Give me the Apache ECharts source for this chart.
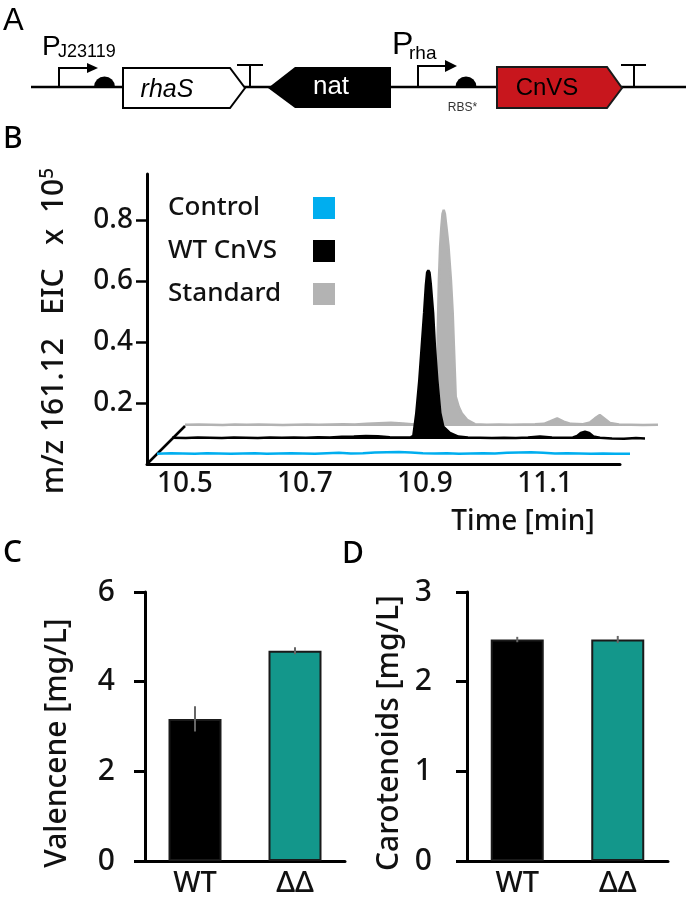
<!DOCTYPE html>
<html><head><meta charset="utf-8">
<script src="https://cdn.jsdelivr.net/npm/echarts@6/dist/echarts.min.js"></script>
<style>html,body{margin:0;padding:0;background:#fff}#c{width:688px;height:905px}</style>
</head><body><div id="c"></div>
<script>
// ---------- DATA ----------
const traceNames = ['Control', 'WT CnVS', 'Standard'];
const timeTicks = [10.5, 10.7, 10.9, 11.1];
const eicTicks = [0.2, 0.4, 0.6, 0.8];

const controlTime = [10.437,10.46,10.48,10.50,10.52,10.54,10.56,10.58,10.60,10.62,10.64,10.66,10.68,10.70,10.72,10.74,10.76,10.78,10.80,10.82,10.84,10.86,10.88,10.90,10.92,10.94,10.96,10.98,11.00,11.02,11.04,11.06,11.08,11.10,11.12,11.14,11.16,11.18,11.20,11.225];
const controlEIC  = [0.004,0.006,0.005,0.004,0.006,0.005,0.004,0.005,0.006,0.004,0.005,0.006,0.005,0.004,0.006,0.007,0.005,0.006,0.008,0.009,0.010,0.008,0.006,0.005,0.006,0.004,0.005,0.006,0.005,0.007,0.008,0.009,0.007,0.005,0.006,0.005,0.004,0.005,0.004,0.004];

const wtTime = [10.437,10.46,10.48,10.50,10.52,10.54,10.56,10.58,10.60,10.62,10.64,10.66,10.68,10.70,10.72,10.74,10.76,10.78,10.80,10.82,10.835,10.839,10.844,10.849,10.853,10.857,10.860,10.862,10.864,10.866,10.868,10.872,10.875,10.879,10.884,10.889,10.900,10.914,10.93,10.95,10.97,10.99,11.01,11.03,11.05,11.07,11.09,11.105,11.112,11.118,11.125,11.132,11.139,11.15,11.17,11.19,11.21,11.225];
const wtEIC  = [0.004,0.003,0.005,0.004,0.003,0.005,0.004,0.003,0.005,0.004,0.005,0.004,0.006,0.005,0.007,0.008,0.010,0.009,0.006,0.005,0.006,0.010,0.085,0.193,0.303,0.413,0.505,0.545,0.553,0.545,0.510,0.413,0.303,0.193,0.085,0.040,0.020,0.008,0.005,0.004,0.003,0.004,0.003,0.005,0.008,0.005,0.004,0.005,0.010,0.020,0.024,0.020,0.008,0.004,0.002,0.001,0.003,0.002];

const stdTime = [10.437,10.46,10.48,10.50,10.52,10.54,10.56,10.58,10.60,10.62,10.64,10.66,10.68,10.70,10.72,10.74,10.76,10.78,10.80,10.82,10.84,10.852,10.855,10.857,10.858,10.860,10.862,10.864,10.866,10.868,10.870,10.873,10.876,10.880,10.883,10.885,10.887,10.888,10.893,10.898,10.907,10.920,10.94,10.96,10.98,11.00,11.02,11.035,11.045,11.057,11.068,11.08,11.10,11.112,11.120,11.128,11.136,11.145,11.16,11.18,11.20,11.225];
const stdEIC  = [0.004,0.005,0.004,0.003,0.005,0.004,0.005,0.004,0.003,0.004,0.005,0.004,0.005,0.006,0.005,0.007,0.009,0.011,0.008,0.005,0.005,0.010,0.060,0.151,0.300,0.479,0.588,0.650,0.695,0.708,0.695,0.643,0.588,0.479,0.370,0.260,0.151,0.096,0.063,0.042,0.020,0.006,0.004,0.005,0.004,0.005,0.006,0.007,0.015,0.025,0.014,0.007,0.006,0.012,0.025,0.036,0.024,0.010,0.005,0.004,0.003,0.004];

const strains = ['WT', '\u0394\u0394'];
const valenceneMean = [3.17, 4.69];
const valenceneErr  = [0.28, 0.08];
const carotenoidMean = [2.47, 2.47];
const carotenoidErr  = [0.03, 0.04];

// ---------- STYLE / LAYOUT ----------
const FONT = 'Noto Sans';
const FW = 500;
const TXT = '#111';
const colors = { control: '#00aeef', wt: '#000000', std: '#b3b3b3', teal: '#13978b', red: '#c8161d' };
const B = { left: 147, bottom: 464, width: 473, height: 290, tMin: 10.437, tMax: 11.225, yMax: 0.95 };
const offsets = [[0, 0], [10, 9], [25, 25], [38, 38]]; // axes, control, WT, standard

function zip(a, b) { return a.map((v, i) => [v, b[i]]); }

const grids = offsets.map(o => ({
  left: B.left + o[0], top: B.bottom - o[1] - B.height, width: B.width, height: B.height, outerBoundsMode: 'none'
}));
grids.push({ left: 145, top: 592, width: 200, height: 269, outerBoundsMode: 'none' });
grids.push({ left: 467, top: 592, width: 201, height: 269, outerBoundsMode: 'none' });

const xAxes = offsets.map((o, i) => ({
  gridIndex: i, type: 'value', min: B.tMin, max: B.tMax, show: i === 0,
  axisLine: { show: true, onZero: false, lineStyle: { color: '#000', width: 3 } },
  axisTick: { show: false }, splitLine: { show: false },
  axisLabel: { customValues: timeTicks, formatter: v => v.toFixed(1), fontFamily: FONT, fontWeight: FW, fontSize: 28, color: TXT, margin: 6 },
  name: i === 0 ? 'Time [min]' : '', nameLocation: 'middle', nameGap: 44,
  nameTextStyle: { fontFamily: FONT, fontWeight: FW, fontSize: 28, color: TXT, verticalAlign: 'top', padding: [0, 0, 0, 279] }
}));
const yAxes = offsets.map((o, i) => ({
  gridIndex: i, type: 'value', min: 0, max: B.yMax, show: i === 0,
  axisLine: { show: true, onZero: false, lineStyle: { color: '#000', width: 3 } },
  axisTick: { show: true, customValues: eicTicks, length: 11, lineStyle: { color: '#000', width: 2.5 } },
  splitLine: { show: false },
  axisLabel: { customValues: eicTicks, formatter: v => v.toFixed(1), fontFamily: FONT, fontWeight: FW, fontSize: 28, color: TXT, margin: 14 },
  name: i === 0 ? 'm/z 161.12   EIC   x  10{sup|5}' : '', nameLocation: 'middle', nameRotate: 90, nameGap: 76,
  nameTextStyle: { fontFamily: FONT, fontWeight: FW, fontSize: 30, color: TXT, padding: [0, 24, 0, 0],
    rich: { sup: { fontFamily: FONT, fontWeight: FW, fontSize: 19, color: TXT, verticalAlign: 'top', padding: [0, 0, 14, 0] } } }
}));

function barAxes(gridIndex, max, interval, title, gap, labelMargin, pad) {
  xAxes.push({ gridIndex, type: 'category', data: strains,
    axisLine: { lineStyle: { color: '#000', width: 3 } }, axisTick: { show: false },
    axisLabel: { fontFamily: FONT, fontWeight: FW, fontSize: 29, color: TXT, margin: 8 } });
  yAxes.push({ gridIndex, type: 'value', min: 0, max, interval,
    axisLine: { show: true, lineStyle: { color: '#000', width: 3 } },
    axisTick: { show: true, length: 11, lineStyle: { color: '#000', width: 3 } },
    splitLine: { show: false },
    axisLabel: { fontFamily: FONT, fontWeight: FW, fontSize: 30, color: TXT, margin: labelMargin },
    name: title, nameLocation: 'middle', nameRotate: 90, nameGap: gap,
    nameTextStyle: { fontFamily: FONT, fontWeight: FW, fontSize: 30, color: TXT, padding: [0, pad, 0, 0] } });
}
barAxes(4, 6, 2, 'Valencene [mg/L]', 73, 30, 33);
barAxes(5, 3, 1, 'Carotenoids [mg/L]', 63, 35, 13);

function traceSeries(name, axis, t, v, color, area, z) {
  return { type: 'line', name, xAxisIndex: axis, yAxisIndex: axis, data: zip(t, v), z,
    symbol: 'none', showSymbol: false, silent: true,
    lineStyle: { color, width: 2.5 }, itemStyle: { color },
    areaStyle: area ? { color, opacity: 1 } : undefined };
}
function barSeries(axis, means) {
  return { type: 'bar', xAxisIndex: axis, yAxisIndex: axis, barWidth: 53, silent: true,
    data: means.map((m, i) => ({ value: m, itemStyle: { color: i === 0 ? colors.wt : colors.teal } })),
    itemStyle: { borderColor: '#1a1a1a', borderWidth: 2 } };
}
function errSeries(axis, means, errs) {
  return { type: 'custom', xAxisIndex: axis, yAxisIndex: axis, z: 5, silent: true,
    data: means.map((m, i) => [i, m, errs[i]]),
    renderItem: (p, api) => {
      const i = api.value(0), m = api.value(1), e = api.value(2);
      const a = api.coord([i, m - e]), b = api.coord([i, m + e]);
      return { type: 'line', shape: { x1: a[0], y1: a[1], x2: b[0], y2: b[1] }, style: { stroke: '#666', lineWidth: 2 } };
    } };
}

const series = [
  traceSeries('Standard', 3, stdTime, stdEIC, colors.std, true, 2),
  traceSeries('WT CnVS', 2, wtTime, wtEIC, colors.wt, true, 3),
  traceSeries('Control', 1, controlTime, controlEIC, colors.control, false, 4),
  barSeries(4, valenceneMean), errSeries(4, valenceneMean, valenceneErr),
  barSeries(5, carotenoidMean), errSeries(5, carotenoidMean, carotenoidErr)
];

// ---------- PANEL A SCHEMATIC + DECORATIONS ----------
const AF = 'Liberation Sans';
const line = (x1, y1, x2, y2, w) => ({ type: 'line', shape: { x1, y1, x2, y2 }, style: { stroke: '#000', lineWidth: w || 2 } });
const poly = (pts, fill, stroke) => ({ type: 'polygon', shape: { points: pts }, style: { fill, stroke: stroke || null, lineWidth: 2 } });
const txt = (x, y, text, font, fill, align) => ({ type: 'text', x, y, style: { text, font, fill: fill || TXT, textAlign: align || 'left', textVerticalAlign: 'middle' } });
const rbs = cx => ({ type: 'sector', shape: { cx, cy: 87, r: 10.5, startAngle: Math.PI, endAngle: 2 * Math.PI }, style: { fill: '#000' } });

const graphics = [
  txt(3, 21, 'A', '31px ' + AF, '#000'),
  line(31, 87, 686, 87, 2.5),
  { type: 'polyline', shape: { points: [[59, 87], [59, 68], [88, 68]] }, style: { stroke: '#000', lineWidth: 2, fill: null } },
  poly([[87, 63], [98, 68], [87, 73]], '#000'),
  txt(42, 47, 'P', '28px ' + AF, '#000'),
  txt(58, 52.5, 'J23119', '18px ' + AF, '#000'),
  rbs(104.5),
  poly([[123, 68], [230, 68], [245, 88], [230, 108], [123, 108]], '#fff', '#000'),
  txt(167, 90, 'rhaS', 'italic 25px ' + AF, '#000', 'center'),
  line(250, 87, 250, 65), line(237, 65, 263, 65),
  poly([[268, 88], [295, 67], [391, 67], [391, 108], [295, 108]], '#000'),
  txt(331, 87, 'nat', '26px ' + AF, '#fff', 'center'),
  { type: 'polyline', shape: { points: [[418, 87], [418, 66], [446, 66]] }, style: { stroke: '#000', lineWidth: 2, fill: null } },
  poly([[445, 60], [457, 66], [445, 72]], '#000'),
  txt(392, 45.5, 'P', '32px ' + AF, '#000'),
  txt(409, 53.5, 'rha', '19px ' + AF, '#000'),
  rbs(466),
  txt(462.5, 107.5, 'RBS*', '12px ' + AF, '#333', 'center'),
  poly([[497, 67], [607, 67], [622, 88], [607, 108], [497, 108]], colors.red, '#1a1a1a'),
  txt(547, 88.5, 'CnVS', '24px ' + AF, '#000', 'center'),
  line(634, 87, 634, 65), line(621, 65, 646, 65),
  // panel letters
  txt(3, 139, 'B', '500 30px ' + FONT, '#000'),
  txt(3, 553, 'C', '500 30px ' + FONT, '#000'),
  txt(342, 554, 'D', '500 30px ' + FONT, '#000'),
  // perspective diagonal linking front axis origin to the back trace origin
  line(B.left, B.bottom, B.left + offsets[3][0], B.bottom - offsets[3][1], 2.5)
];

const chart = echarts.init(document.getElementById('c'), null, { renderer: 'canvas' });
chart.setOption({
  animation: false,
  backgroundColor: '#fff',
  grid: grids, xAxis: xAxes, yAxis: yAxes, series,
  legend: {
    data: traceNames.map(n => ({ name: n, icon: 'rect' })),
    orient: 'vertical', left: 168, top: 195, align: 'right', padding: 0,
    itemWidth: 22, itemHeight: 22, itemGap: 17, selectedMode: false,
    formatter: '{n|{name}}',
    textStyle: { rich: { n: { width: 140, align: 'left', fontFamily: FONT, fontWeight: FW, fontSize: 26, lineHeight: 22, color: TXT } } }
  },
  graphic: graphics
});
</script>
</body></html>
